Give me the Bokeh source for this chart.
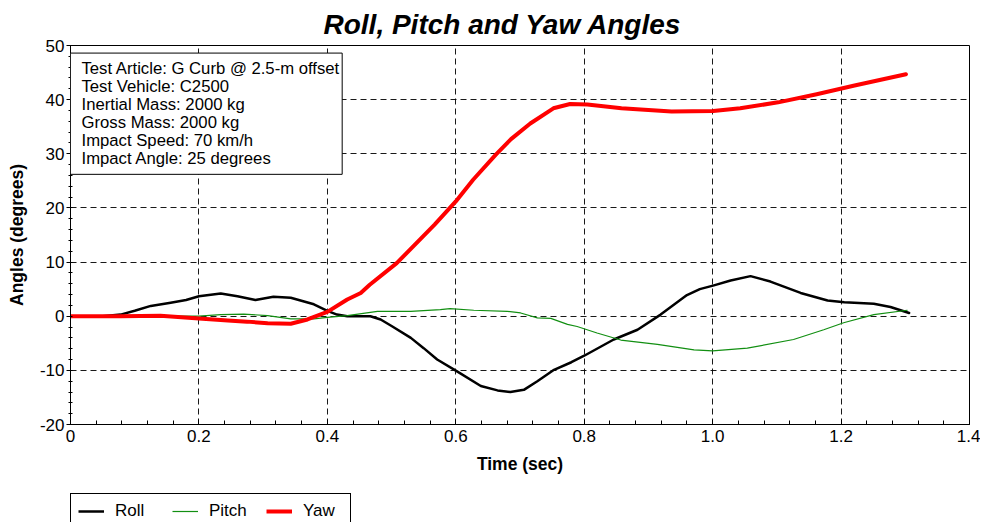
from bokeh.plotting import figure
from bokeh.layouts import column
from bokeh.models import (Range1d, FixedTicker, Legend, LegendItem, Label, Title)
from bokeh.embed import file_html
from bokeh.resources import INLINE

# ---- data ----
roll_t = [0.0, 0.05, 0.078, 0.1, 0.125, 0.156, 0.18, 0.2, 0.234, 0.26, 0.288, 0.316, 0.343,
          0.379, 0.40, 0.415, 0.431, 0.441, 0.467, 0.483, 0.50, 0.53, 0.55, 0.571, 0.602,
          0.639, 0.665, 0.685, 0.706, 0.727, 0.753, 0.78, 0.80, 0.846, 0.883, 0.919, 0.96,
          0.98, 1.002, 1.028, 1.059, 1.09, 1.137, 1.179, 1.205, 1.251, 1.277, 1.306]
roll_v = [0.0, 0.0, 0.3, 1.0, 1.9, 2.5, 3.0, 3.7, 4.2, 3.7, 3.0, 3.6, 3.4,
          2.2, 1.0, 0.3, 0.0, 0.0, 0.0, -0.6, -1.8, -4.0, -5.9, -8.0, -10.2,
          -12.9, -13.7, -14.0, -13.6, -12.0, -9.9, -8.5, -7.3, -4.3, -2.5, 0.3, 3.9,
          5.0, 5.7, 6.6, 7.4, 6.4, 4.3, 2.9, 2.6, 2.3, 1.7, 0.6]

pitch_t = [0.0, 0.1, 0.2, 0.234, 0.27, 0.307, 0.343, 0.379, 0.40, 0.431, 0.478, 0.53,
           0.576, 0.591, 0.628, 0.68, 0.701, 0.727, 0.748, 0.774, 0.789, 0.82, 0.857,
           0.914, 0.971, 1.0, 1.054, 1.126, 1.173, 1.204, 1.251, 1.303]
pitch_v = [0.0, 0.0, 0.0, 0.3, 0.4, 0.1, -0.5, -0.5, -0.2, 0.1, 0.9, 0.9,
           1.2, 1.4, 1.1, 0.9, 0.6, -0.3, -0.4, -1.5, -1.9, -3.1, -4.4,
           -5.2, -6.2, -6.4, -5.9, -4.3, -2.5, -1.2, 0.3, 1.1]

yaw_t = [0.0, 0.078, 0.14, 0.2, 0.245, 0.275, 0.307, 0.343, 0.369, 0.40, 0.431, 0.452,
         0.466, 0.508, 0.567, 0.60, 0.627, 0.662, 0.686, 0.716, 0.752, 0.778, 0.805,
         0.858, 0.936, 1.001, 1.043, 1.102, 1.162, 1.221, 1.301]
yaw_v = [0.0, 0.0, 0.1, -0.4, -0.8, -1.0, -1.3, -1.4, -0.6, 0.8, 3.1, 4.3,
         5.8, 9.8, 16.9, 21.2, 25.2, 29.8, 32.7, 35.6, 38.4, 39.2, 39.1,
         38.4, 37.8, 37.9, 38.4, 39.5, 41.0, 42.6, 44.7]

x_ticks = [0, 0.2, 0.4, 0.6, 0.8, 1.0, 1.2, 1.4]
x_tick_labels = ["0", "0.2", "0.4", "0.6", "0.8", "1.0", "1.2", "1.4"]
y_ticks = [-20, -10, 0, 10, 20, 30, 40, 50]
y_tick_labels = ["-20", "-10", "0", "10", "20", "30", "40", "50"]

series_names = ["Roll", "Pitch", "Yaw"]
series_colors = ["black", "#128f12", "#ff0000"]
series_widths = [2.5, 1.2, 4]

info_lines = ["Test Article: G Curb @ 2.5-m offset",
              "Test Vehicle: C2500",
              "Inertial Mass: 2000 kg",
              "Gross Mass: 2000 kg",
              "Impact Speed: 70 km/h",
              "Impact Angle: 25 degrees"]

FONT = "Liberation Sans"
series = [(roll_t, roll_v), (pitch_t, pitch_v), (yaw_t, yaw_v)]

# ---------------- main chart ----------------
p = figure(width=980, height=482, output_backend="svg", toolbar_location=None,
           x_range=Range1d(0, 1.4), y_range=Range1d(-20, 50),
           min_border_left=70, min_border_right=11, min_border_top=45, min_border_bottom=58)

p.title = Title(text="Roll, Pitch and Yaw Angles", align="left",
                text_font=FONT, text_font_size="28px", text_font_style="bold italic",
                text_color="black", offset=253, standoff=12)

for (t, v), c, w in zip(series, series_colors, series_widths):
    p.line(t, v, line_color=c, line_width=w, line_join="round", line_cap="round")

minor_x = [round(i * 0.04, 2) for i in range(0, 36)]
minor_y = list(range(-20, 51, 2))
p.xaxis.ticker = FixedTicker(ticks=x_ticks, minor_ticks=minor_x)
p.yaxis.ticker = FixedTicker(ticks=y_ticks, minor_ticks=minor_y)
p.xaxis.major_label_overrides = dict(zip(x_ticks, x_tick_labels))
p.yaxis.major_label_overrides = dict(zip(y_ticks, y_tick_labels))

for ax in (p.xaxis[0], p.yaxis[0]):
    ax.axis_line_color = "black"
    ax.major_tick_line_color = "black"
    ax.minor_tick_line_color = "black"
    ax.major_label_text_font = FONT
    ax.major_label_text_font_size = "17px"
    ax.major_label_text_color = "black"
    ax.axis_label_text_font = FONT
    ax.axis_label_text_font_size = "17.5px"
    ax.axis_label_text_font_style = "bold"
    ax.axis_label_text_color = "black"

p.xaxis.axis_label = "Time (sec)"
p.yaxis.axis_label = "Angles (degrees)"
p.xaxis.major_tick_out = 0
p.xaxis.major_tick_in = 5
p.xaxis.minor_tick_in = 4
p.xaxis.minor_tick_out = 0
p.xaxis.major_label_standoff = 5
p.xaxis.axis_label_standoff = 9
p.yaxis.major_tick_out = 4
p.yaxis.major_tick_in = 0
p.yaxis.minor_tick_in = 2
p.yaxis.minor_tick_out = 2
p.yaxis.major_label_standoff = 2
p.yaxis.axis_label_standoff = 10

p.xgrid.grid_line_color = "black"
p.ygrid.grid_line_color = "black"
p.xgrid.grid_line_dash = "6 4"
p.ygrid.grid_line_dash = "6 4"
p.xgrid.grid_line_alpha = 0.9
p.ygrid.grid_line_alpha = 0.9

p.outline_line_color = "black"
p.outline_line_alpha = 1
p.background_fill_color = "white"
p.border_fill_color = "white"

info = Label(x=0, y=48.6, anchor="top_left", text="\n".join(info_lines),
             text_font=FONT, text_font_size="16.7px", text_color="black",
             text_line_height=0.95,
             background_fill_color="white", border_line_color="black", border_line_width=1,
             padding=(11, 2, 6, 6))
p.add_layout(info)

# ---------------- legend strip ----------------
lg = figure(width=400, height=40, output_backend="svg", toolbar_location=None,
            x_range=Range1d(10, 11), y_range=Range1d(100, 101),
            x_axis_location=None, y_axis_location=None,
            min_border_left=70, min_border_right=0, min_border_top=11, min_border_bottom=0)
lg.outline_line_color = None
lg.xgrid.visible = False
lg.ygrid.visible = False
items = []
for (t, v), c, w, name in zip(series, series_colors, series_widths, series_names):
    r = lg.line(t, v, line_color=c, line_width=w)
    items.append(LegendItem(label=name, renderers=[r]))

legend = Legend(items=items, orientation="horizontal", location="top_left",
                label_text_font=FONT, label_text_font_size="17px", label_text_color="black",
                glyph_width=26, glyph_height=14, label_standoff=11, label_width=40,
                spacing=17, padding=7, margin=0,
                border_line_color="black", border_line_width=1, border_line_alpha=1,
                background_fill_color="white")
lg.add_layout(legend)

layout = column(p, lg, spacing=0)
open("out.html", "w").write(file_html(layout, INLINE))
